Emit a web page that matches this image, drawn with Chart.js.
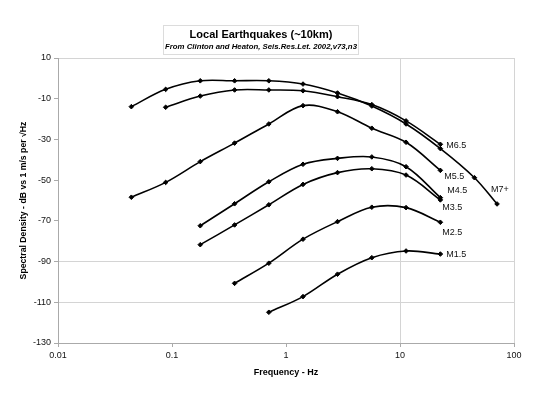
<!DOCTYPE html>
<html>
<head>
<meta charset="utf-8">
<script src="https://cdn.jsdelivr.net/npm/chart.js@4.4.1/dist/chart.umd.min.js"></script>
<style>
  html, body { margin: 0; padding: 0; background: #fff; }
  #wrap { width: 549px; height: 394px; position: relative; }
</style>
</head>
<body>
<div id="wrap"><canvas id="quakeChart"></canvas></div>
<script>
// Frequencies (Hz) shared by all curves
const freqHz = [0.044, 0.088, 0.177, 0.354, 0.707, 1.41, 2.83, 5.66, 11.3, 22.6, 45, 71];

// Spectral density (dB), null where a curve has no point
const m7plus = [-13.9, -5.4, -1.2, -1.2, -1.2, -2.8, -7.2, -13.6, -22.4, -34.5, -48.8, -61.7];
const m65 = [null, -14.2, -8.7, -5.7, -5.7, -6.1, -9.0, -12.9, -20.9, -32.4, null, null];
const m55 = [-58.4, -51.1, -40.9, -31.8, -22.4, -13.4, -16.4, -24.5, -31.4, -45.2, null, null];
const m45 = [null, null, -72.4, -61.6, -50.8, -42.2, -39.3, -38.6, -43.4, -58.6, null, null];
const m35 = [null, null, -81.7, -72.0, -62.1, -52.1, -46.3, -44.4, -47.5, -59.7, null, null];
const m25 = [null, null, null, -100.7, -90.8, -79.0, -70.4, -63.3, -63.5, -70.7, null, null];
const m15 = [null, null, null, null, -114.9, -107.2, -96.2, -88.1, -84.8, -86.3, null, null];

const seriesNames = ['M7+', 'M6.5', 'M5.5', 'M4.5', 'M3.5', 'M2.5', 'M1.5'];
const seriesValues = [m7plus, m65, m55, m45, m35, m25, m15];

const xTicks = [0.01, 0.1, 1, 10, 100];
const xTickLabels = ['0.01', '0.1', '1', '10', '100'];

// where each curve's name sits relative to its last point (px)
const nameOffsets = [
    { dx: -6, dy: -14 },
    { dx: 6, dy: 1 },
    { dx: 4, dy: 6 },
    { dx: 7, dy: -7 },
    { dx: 2, dy: 8 },
    { dx: 2, dy: 10 },
    { dx: 6, dy: 0 }
];

const FONT = '"Liberation Sans", Arial, sans-serif';
const GRID = '#d4d4d4';

const toPoints = (vals) => freqHz
    .map((f, i) => ({ x: f, y: vals[i] }))
    .filter(p => p.y !== null);

// Boxed title above the plot
const titleBox = {
    id: 'titleBox',
    afterDraw(chart) {
        const ctx = chart.ctx;
        ctx.save();
        ctx.strokeStyle = '#dcdcdc';
        ctx.lineWidth = 1;
        ctx.strokeRect(163.5, 25.5, 195, 29);
        ctx.fillStyle = '#000';
        ctx.textAlign = 'center';
        ctx.textBaseline = 'middle';
        ctx.font = 'bold 11px ' + FONT;
        ctx.fillText('Local Earthquakes (~10km)', 261, 34.5);
        ctx.font = 'italic bold 7.8px ' + FONT;
        ctx.fillText('From Clinton and Heaton, Seis.Res.Let. 2002,v73,n3', 261, 47);
        ctx.restore();
    }
};

// Magnitude names next to the end of each curve
const curveNames = {
    id: 'curveNames',
    afterDatasetsDraw(chart) {
        const ctx = chart.ctx;
        ctx.save();
        ctx.fillStyle = '#111';
        ctx.font = '9px ' + FONT;
        ctx.textAlign = 'left';
        ctx.textBaseline = 'middle';
        chart.data.datasets.forEach((ds, i) => {
            const pts = chart.getDatasetMeta(i).data;
            const last = pts[pts.length - 1];
            const off = nameOffsets[i];
            ctx.fillText(ds.label, last.x + off.dx, last.y + off.dy);
        });
        ctx.restore();
    }
};

const ctx = document.getElementById('quakeChart').getContext('2d');
new Chart(ctx, {
    type: 'line',
    data: {
        datasets: seriesNames.map((name, i) => ({
            label: name,
            data: toPoints(seriesValues[i]),
            borderColor: '#000',
            backgroundColor: '#000',
            borderWidth: 1.6,
            tension: 0.35,
            pointStyle: 'rectRot',
            pointRadius: 2.3,
            pointBorderWidth: 1,
            fill: false
        }))
    },
    options: {
        responsive: true,
        maintainAspectRatio: false,
        animation: false,
        layout: {
            padding: { top: 58, right: 35, left: 0, bottom: 0 }
        },
        plugins: {
            legend: { display: false },
            title: { display: false },
            tooltip: { enabled: false }
        },
        scales: {
            x: {
                type: 'logarithmic',
                min: 0.01,
                max: 100,
                afterBuildTicks: (scale) => {
                    scale.ticks = xTicks.map(v => ({ value: v }));
                },
                afterFit: (scale) => { scale.height = 51; },
                ticks: {
                    autoSkip: false,
                    maxRotation: 0,
                    padding: 3,
                    color: '#111',
                    font: { family: FONT, size: 9 },
                    callback: (v) => xTickLabels[xTicks.indexOf(v)]
                },
                grid: {
                    color: (c) => (c.tick && (c.tick.value === 10 || c.tick.value === 100)) ? GRID : 'rgba(0,0,0,0)',
                    tickColor: '#aaa',
                    tickLength: 4
                },
                border: { color: '#aaa' },
                title: {
                    display: true,
                    text: 'Frequency - Hz',
                    color: '#000',
                    font: { family: FONT, size: 9, weight: 'bold' },
                    padding: { top: 0, bottom: 16.5 }
                }
            },
            y: {
                min: -130,
                max: 10,
                afterFit: (scale) => { scale.width = 58; },
                ticks: {
                    stepSize: 20,
                    padding: 3,
                    color: '#111',
                    font: { family: FONT, size: 9 }
                },
                grid: {
                    color: (c) => (c.tick && [10, -90, -110].includes(c.tick.value)) ? GRID : 'rgba(0,0,0,0)',
                    tickColor: '#aaa',
                    tickLength: 4
                },
                border: { color: '#aaa' },
                title: {
                    display: true,
                    text: 'Spectral Density - dB vs 1 m/s per \u221AHz',
                    color: '#000',
                    font: { family: FONT, size: 8.7, weight: 'bold' },
                    padding: { top: 18.5, bottom: 0 }
                }
            }
        }
    },
    plugins: [titleBox, curveNames]
});
</script>
</body>
</html>
